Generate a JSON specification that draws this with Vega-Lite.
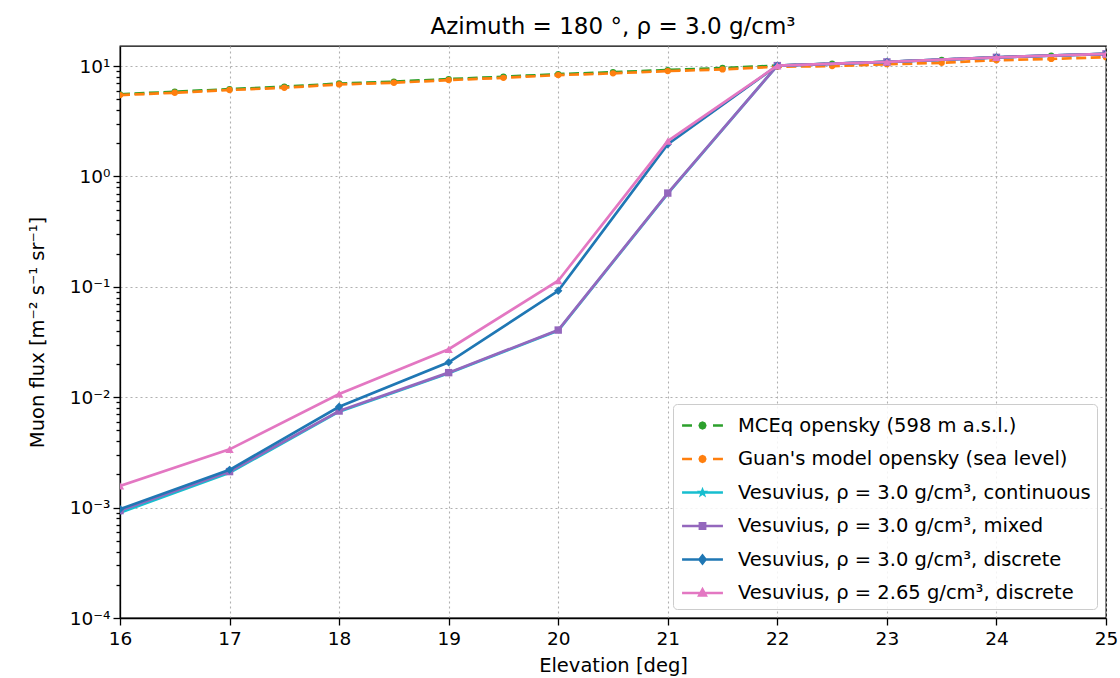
{
  "$schema": "https://vega.github.io/schema/vega-lite/v6.json",
  "width": 986,
  "height": 572,
  "autosize": {"type": "none"},
  "padding": {"left": 120, "top": 46, "right": 14, "bottom": 60},
  "background": "white",
  "title": {"text": "Azimuth = 180 °, ρ = 3.0 g/cm³", "font": "DejaVu Sans", "fontSize": 23, "fontWeight": "normal", "color": "black", "offset": 7},
  "config": {
    "view": {"stroke": "black", "strokeWidth": 1.3},
    "axis": {
      "labelFont": "DejaVu Sans", "labelFontSize": 18.5, "labelColor": "black",
      "titleFont": "DejaVu Sans", "titleFontSize": 19.5, "titleFontWeight": "normal", "titleColor": "black",
      "domainColor": "black", "domainWidth": 1.3, "tickColor": "black", "tickWidth": 1.3,
      "gridColor": "#b0b0b0", "gridDash": [2, 3], "gridWidth": 1.1, "labelFlush": false
    },
    "legend": {"orient": "bottom-right", "offset": 9,
      "labelFont": "DejaVu Sans", "labelFontSize": 19.5, "labelColor": "black", "labelLimit": 0,
      "symbolSize": 784, "symbolStrokeWidth": 2.5, "padding": 6, "rowPadding": 8.5, "labelOffset": 20, "symbolOffset": 8,
      "strokeColor": "#cccccc", "fillColor": "rgba(255,255,255,0.85)", "cornerRadius": 4}
  },
  "data": {"values": [
    {"series": "MCEq opensky (598 m a.s.l.)", "elev": 16, "flux": 5.55},
    {"series": "MCEq opensky (598 m a.s.l.)", "elev": 16.5, "flux": 5.85},
    {"series": "MCEq opensky (598 m a.s.l.)", "elev": 17, "flux": 6.18},
    {"series": "MCEq opensky (598 m a.s.l.)", "elev": 17.5, "flux": 6.5},
    {"series": "MCEq opensky (598 m a.s.l.)", "elev": 18, "flux": 6.95},
    {"series": "MCEq opensky (598 m a.s.l.)", "elev": 18.5, "flux": 7.22},
    {"series": "MCEq opensky (598 m a.s.l.)", "elev": 19, "flux": 7.62},
    {"series": "MCEq opensky (598 m a.s.l.)", "elev": 19.5, "flux": 8.0},
    {"series": "MCEq opensky (598 m a.s.l.)", "elev": 20, "flux": 8.45},
    {"series": "MCEq opensky (598 m a.s.l.)", "elev": 20.5, "flux": 8.8},
    {"series": "MCEq opensky (598 m a.s.l.)", "elev": 21, "flux": 9.2},
    {"series": "MCEq opensky (598 m a.s.l.)", "elev": 21.5, "flux": 9.6},
    {"series": "MCEq opensky (598 m a.s.l.)", "elev": 22, "flux": 10.1},
    {"series": "MCEq opensky (598 m a.s.l.)", "elev": 22.5, "flux": 10.5},
    {"series": "MCEq opensky (598 m a.s.l.)", "elev": 23, "flux": 10.9},
    {"series": "MCEq opensky (598 m a.s.l.)", "elev": 23.5, "flux": 11.4},
    {"series": "MCEq opensky (598 m a.s.l.)", "elev": 24, "flux": 12.0},
    {"series": "MCEq opensky (598 m a.s.l.)", "elev": 24.5, "flux": 12.4},
    {"series": "MCEq opensky (598 m a.s.l.)", "elev": 25, "flux": 12.9},
    {"series": "Guan's model opensky (sea level)", "elev": 16, "flux": 5.46},
    {"series": "Guan's model opensky (sea level)", "elev": 16.5, "flux": 5.73},
    {"series": "Guan's model opensky (sea level)", "elev": 17, "flux": 6.07},
    {"series": "Guan's model opensky (sea level)", "elev": 17.5, "flux": 6.36},
    {"series": "Guan's model opensky (sea level)", "elev": 18, "flux": 6.82},
    {"series": "Guan's model opensky (sea level)", "elev": 18.5, "flux": 7.06},
    {"series": "Guan's model opensky (sea level)", "elev": 19, "flux": 7.46},
    {"series": "Guan's model opensky (sea level)", "elev": 19.5, "flux": 7.83},
    {"series": "Guan's model opensky (sea level)", "elev": 20, "flux": 8.28},
    {"series": "Guan's model opensky (sea level)", "elev": 20.5, "flux": 8.59},
    {"series": "Guan's model opensky (sea level)", "elev": 21, "flux": 9.01},
    {"series": "Guan's model opensky (sea level)", "elev": 21.5, "flux": 9.33},
    {"series": "Guan's model opensky (sea level)", "elev": 22, "flux": 9.86},
    {"series": "Guan's model opensky (sea level)", "elev": 22.5, "flux": 10.0},
    {"series": "Guan's model opensky (sea level)", "elev": 23, "flux": 10.4},
    {"series": "Guan's model opensky (sea level)", "elev": 23.5, "flux": 10.7},
    {"series": "Guan's model opensky (sea level)", "elev": 24, "flux": 11.3},
    {"series": "Guan's model opensky (sea level)", "elev": 24.5, "flux": 11.6},
    {"series": "Guan's model opensky (sea level)", "elev": 25, "flux": 12.05},
    {"series": "Vesuvius, ρ = 3.0 g/cm³, continuous", "elev": 16, "flux": 0.00090},
    {"series": "Vesuvius, ρ = 3.0 g/cm³, continuous", "elev": 17, "flux": 0.00207},
    {"series": "Vesuvius, ρ = 3.0 g/cm³, continuous", "elev": 18, "flux": 0.0074},
    {"series": "Vesuvius, ρ = 3.0 g/cm³, continuous", "elev": 19, "flux": 0.0165},
    {"series": "Vesuvius, ρ = 3.0 g/cm³, continuous", "elev": 20, "flux": 0.0402},
    {"series": "Vesuvius, ρ = 3.0 g/cm³, continuous", "elev": 21, "flux": 0.700},
    {"series": "Vesuvius, ρ = 3.0 g/cm³, continuous", "elev": 22, "flux": 10.1},
    {"series": "Vesuvius, ρ = 3.0 g/cm³, continuous", "elev": 23, "flux": 10.9},
    {"series": "Vesuvius, ρ = 3.0 g/cm³, continuous", "elev": 24, "flux": 12.0},
    {"series": "Vesuvius, ρ = 3.0 g/cm³, continuous", "elev": 25, "flux": 12.9},
    {"series": "Vesuvius, ρ = 3.0 g/cm³, mixed", "elev": 16, "flux": 0.00094},
    {"series": "Vesuvius, ρ = 3.0 g/cm³, mixed", "elev": 17, "flux": 0.00212},
    {"series": "Vesuvius, ρ = 3.0 g/cm³, mixed", "elev": 18, "flux": 0.0075},
    {"series": "Vesuvius, ρ = 3.0 g/cm³, mixed", "elev": 19, "flux": 0.0167},
    {"series": "Vesuvius, ρ = 3.0 g/cm³, mixed", "elev": 20, "flux": 0.0406},
    {"series": "Vesuvius, ρ = 3.0 g/cm³, mixed", "elev": 21, "flux": 0.707},
    {"series": "Vesuvius, ρ = 3.0 g/cm³, mixed", "elev": 22, "flux": 10.1},
    {"series": "Vesuvius, ρ = 3.0 g/cm³, mixed", "elev": 23, "flux": 10.9},
    {"series": "Vesuvius, ρ = 3.0 g/cm³, mixed", "elev": 24, "flux": 12.0},
    {"series": "Vesuvius, ρ = 3.0 g/cm³, mixed", "elev": 25, "flux": 12.9},
    {"series": "Vesuvius, ρ = 3.0 g/cm³, discrete", "elev": 16, "flux": 0.00097},
    {"series": "Vesuvius, ρ = 3.0 g/cm³, discrete", "elev": 17, "flux": 0.0022},
    {"series": "Vesuvius, ρ = 3.0 g/cm³, discrete", "elev": 18, "flux": 0.0082},
    {"series": "Vesuvius, ρ = 3.0 g/cm³, discrete", "elev": 19, "flux": 0.0207},
    {"series": "Vesuvius, ρ = 3.0 g/cm³, discrete", "elev": 20, "flux": 0.092},
    {"series": "Vesuvius, ρ = 3.0 g/cm³, discrete", "elev": 21, "flux": 1.96},
    {"series": "Vesuvius, ρ = 3.0 g/cm³, discrete", "elev": 22, "flux": 10.1},
    {"series": "Vesuvius, ρ = 3.0 g/cm³, discrete", "elev": 23, "flux": 10.9},
    {"series": "Vesuvius, ρ = 3.0 g/cm³, discrete", "elev": 24, "flux": 12.0},
    {"series": "Vesuvius, ρ = 3.0 g/cm³, discrete", "elev": 25, "flux": 12.9},
    {"series": "Vesuvius, ρ = 2.65 g/cm³, discrete", "elev": 16, "flux": 0.00157},
    {"series": "Vesuvius, ρ = 2.65 g/cm³, discrete", "elev": 17, "flux": 0.00337},
    {"series": "Vesuvius, ρ = 2.65 g/cm³, discrete", "elev": 18, "flux": 0.0107},
    {"series": "Vesuvius, ρ = 2.65 g/cm³, discrete", "elev": 19, "flux": 0.0272},
    {"series": "Vesuvius, ρ = 2.65 g/cm³, discrete", "elev": 20, "flux": 0.1136},
    {"series": "Vesuvius, ρ = 2.65 g/cm³, discrete", "elev": 21, "flux": 2.09},
    {"series": "Vesuvius, ρ = 2.65 g/cm³, discrete", "elev": 22, "flux": 10.1},
    {"series": "Vesuvius, ρ = 2.65 g/cm³, discrete", "elev": 23, "flux": 10.9},
    {"series": "Vesuvius, ρ = 2.65 g/cm³, discrete", "elev": 24, "flux": 12.0},
    {"series": "Vesuvius, ρ = 2.65 g/cm³, discrete", "elev": 25, "flux": 12.9}
  ]},
  "encoding": {
    "x": {"field": "elev", "type": "quantitative",
      "scale": {"domain": [16, 25], "nice": false, "zero": false},
      "axis": {"title": "Elevation [deg]", "values": [16, 17, 18, 19, 20, 21, 22, 23, 24, 25], "format": "d", "tickSize": 7, "labelPadding": 4.5, "titlePadding": 8}},
    "y": {"field": "flux", "type": "quantitative",
      "scale": {"type": "log", "domain": [0.0001, 15.2], "nice": false},
      "axis": {"title": "Muon flux [m⁻² s⁻¹ sr⁻¹]", "titlePadding": 22, "labelPadding": 3, "labelOverlap": false,
        "values": [0.0001, 0.0002, 0.0003, 0.0004, 0.0005, 0.0006, 0.0007, 0.0008, 0.0009, 0.001, 0.002, 0.003, 0.004, 0.005, 0.006, 0.007, 0.008, 0.009, 0.01, 0.02, 0.03, 0.04, 0.05, 0.06, 0.07, 0.08, 0.09, 0.1, 0.2, 0.3, 0.4, 0.5, 0.6, 0.7, 0.8, 0.9, 1, 2, 3, 4, 5, 6, 7, 8, 9, 10],
        "labelExpr": "datum.value === 0.0001 ? '10⁻⁴' : datum.value === 0.001 ? '10⁻³' : datum.value === 0.01 ? '10⁻²' : datum.value === 0.1 ? '10⁻¹' : datum.value === 1 ? '10⁰' : datum.value === 10 ? '10¹' : ''",
        "tickSize": {"condition": {"test": "indexof([0.0001,0.001,0.01,0.1,1,10], datum.value) >= 0", "value": 7}, "value": 4},
        "gridOpacity": {"condition": {"test": "indexof([0.0001,0.001,0.01,0.1,1,10], datum.value) >= 0", "value": 1}, "value": 0}}},
    "color": {"field": "series", "type": "nominal",
      "scale": {"domain": ["MCEq opensky (598 m a.s.l.)", "Guan's model opensky (sea level)", "Vesuvius, ρ = 3.0 g/cm³, continuous", "Vesuvius, ρ = 3.0 g/cm³, mixed", "Vesuvius, ρ = 3.0 g/cm³, discrete", "Vesuvius, ρ = 2.65 g/cm³, discrete"],
        "range": ["#2ca02c", "#ff7f0e", "#17becf", "#9467bd", "#1f77b4", "#e377c2"]},
      "legend": {"title": null}}
  },
  "layer": [
    {"transform": [{"filter": {"field": "series", "equal": "__none__"}}],
     "mark": {"type": "point", "filled": true, "opacity": 1, "strokeWidth": 2.5},
     "encoding": {
       "shape": {"field": "series", "type": "nominal", "legend": {"title": null},
         "scale": {"domain": ["MCEq opensky (598 m a.s.l.)", "Guan's model opensky (sea level)", "Vesuvius, ρ = 3.0 g/cm³, continuous", "Vesuvius, ρ = 3.0 g/cm³, mixed", "Vesuvius, ρ = 3.0 g/cm³, discrete", "Vesuvius, ρ = 2.65 g/cm³, discrete"],
           "range": ["M-1.46,0H-0.75M-0.25,0H0.25M0.75,0H1.46M0.2,0L0.141,0.141L0,0.2L-0.141,0.141L-0.2,0L-0.141,-0.141L0,-0.2L0.141,-0.141Z", "M-1.46,0H-0.75M-0.25,0H0.25M0.75,0H1.46M0.2,0L0.141,0.141L0,0.2L-0.141,0.141L-0.2,0L-0.141,-0.141L0,-0.2L0.141,-0.141Z", "M-1.46,0H1.46M0,-0.16L0.04,-0.055L0.15,-0.05L0.06,0.02L0.095,0.13L0,0.065L-0.095,0.13L-0.06,0.02L-0.15,-0.05L-0.04,-0.055Z", "M-1.46,0H1.46M-0.19,-0.19H0.19V0.19H-0.19Z", "M-1.46,0H1.46M0,-0.28L0.22,0L0,0.28L-0.22,0Z", "M-1.46,0H1.46M0,-0.26L0.24,0.18H-0.24Z"]}},
       "stroke": {"field": "series", "type": "nominal", "legend": {"title": null},
         "scale": {"domain": ["MCEq opensky (598 m a.s.l.)", "Guan's model opensky (sea level)", "Vesuvius, ρ = 3.0 g/cm³, continuous", "Vesuvius, ρ = 3.0 g/cm³, mixed", "Vesuvius, ρ = 3.0 g/cm³, discrete", "Vesuvius, ρ = 2.65 g/cm³, discrete"],
           "range": ["#2ca02c", "#ff7f0e", "#17becf", "#9467bd", "#1f77b4", "#e377c2"]}}
     }},
    {"transform": [{"filter": {"field": "series", "equal": "MCEq opensky (598 m a.s.l.)"}}],
     "mark": {"type": "line", "strokeWidth": 2.7, "strokeDash": [10, 4.5], "clip": true,
       "point": {"shape": "circle", "size": 40, "filled": true, "opacity": 1, "clip": true}}},
    {"transform": [{"filter": {"field": "series", "equal": "Guan's model opensky (sea level)"}}],
     "mark": {"type": "line", "strokeWidth": 2.7, "strokeDash": [10, 4.5], "clip": true,
       "point": {"shape": "circle", "size": 40, "filled": true, "opacity": 1, "clip": true}}},
    {"transform": [{"filter": {"field": "series", "equal": "Vesuvius, ρ = 3.0 g/cm³, continuous"}}],
     "mark": {"type": "line", "strokeWidth": 2.7, "clip": true,
       "point": {"shape": "M0,-1L0.24,-0.33L0.95,-0.31L0.38,0.12L0.59,0.81L0,0.4L-0.59,0.81L-0.38,0.12L-0.95,-0.31L-0.24,-0.33Z", "size": 36, "filled": true, "opacity": 1, "clip": true}}},
    {"transform": [{"filter": {"field": "series", "equal": "Vesuvius, ρ = 3.0 g/cm³, mixed"}}],
     "mark": {"type": "line", "strokeWidth": 2.7, "clip": true,
       "point": {"shape": "square", "size": 55, "filled": true, "opacity": 1, "clip": true}}},
    {"transform": [{"filter": {"field": "series", "equal": "Vesuvius, ρ = 3.0 g/cm³, discrete"}}],
     "mark": {"type": "line", "strokeWidth": 2.7, "clip": true,
       "point": {"shape": "diamond", "size": 70, "filled": true, "opacity": 1, "clip": true}}},
    {"transform": [{"filter": {"field": "series", "equal": "Vesuvius, ρ = 2.65 g/cm³, discrete"}}],
     "mark": {"type": "line", "strokeWidth": 2.7, "clip": true,
       "point": {"shape": "triangle-up", "size": 70, "filled": true, "opacity": 1, "clip": true}}}
  ]
}
